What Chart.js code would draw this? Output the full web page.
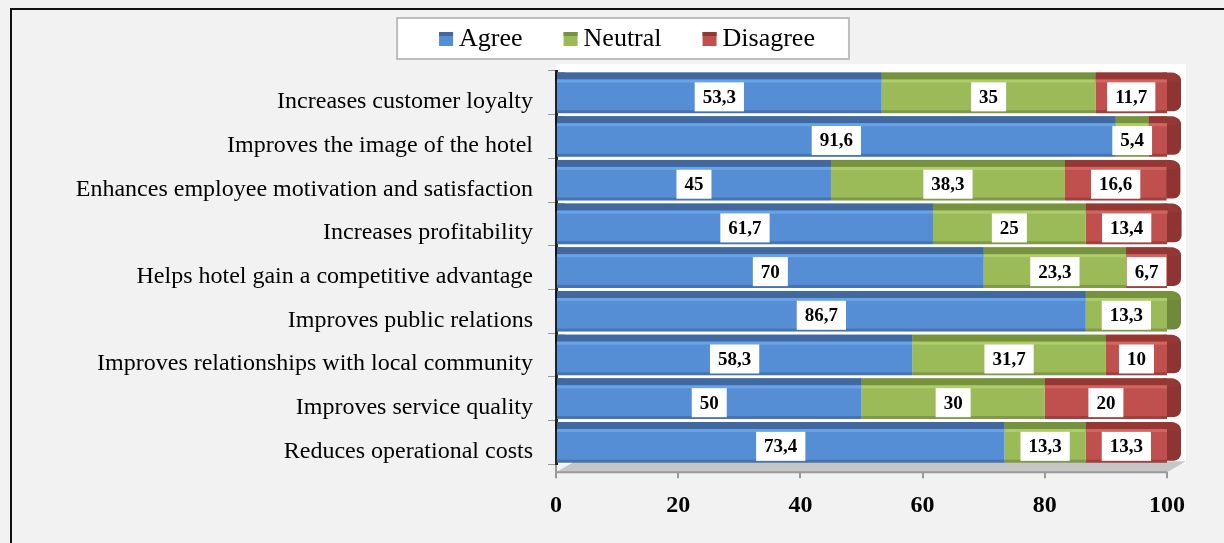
<!DOCTYPE html>
<html lang="en">
<head>
<meta charset="UTF-8">
<title>Benefits of green practices</title>
<script src="https://cdn.jsdelivr.net/npm/chart.js@4.4.1/dist/chart.umd.min.js"></script>
<style>
  html, body { margin: 0; padding: 0; background: #f2f2f2; }
</style>
</head>
<body>
<canvas id="benefitsChart" width="1224" height="543"></canvas>
<script>
// values (percent)
const categories = [
  'Increases customer loyalty',
  'Improves the image of the hotel',
  'Enhances employee motivation and satisfaction',
  'Increases profitability',
  'Helps hotel gain a competitive advantage',
  'Improves public relations',
  'Improves relationships with local community',
  'Improves service quality',
  'Reduces operational costs'
];
const agree    = [53.3, 91.6, 45, 61.7, 70, 86.7, 58.3, 50, 73.4];
const neutral  = [35, 5.4, 38.3, 25, 23.3, 13.3, 31.7, 30, 13.3];
const disagree = [11.7, 3, 16.6, 13.4, 6.7, 0, 10, 20, 13.3];
const xTicks = [0, 20, 40, 60, 80, 100];

const FONT = "'Liberation Serif', 'Times New Roman', serif";
const shades = [
  { main: '#558ed5', dark: '#41699f', light: '#6aa2e6', cap: '#3f6797' },
  { main: '#9bbb59', dark: '#76923c', light: '#aecb6e', cap: '#71893c' },
  { main: '#c0504d', dark: '#953735', light: '#d06662', cap: '#8e3533' }
];

// grey page, white plot wall, outer frame
const backdrop = {
  id: 'backdrop',
  beforeDraw(chart) {
    const { ctx, chartArea: a } = chart;
    ctx.save();
    ctx.fillStyle = '#f2f2f2';
    ctx.fillRect(0, 0, chart.width, chart.height);
    ctx.fillStyle = '#ffffff';
    ctx.fillRect(a.left, a.top - 7, a.right - a.left + 19, a.bottom - a.top + 7);
    ctx.strokeStyle = '#111';
    ctx.lineWidth = 2;
    ctx.strokeRect(11, 9, chart.width + 20, chart.height + 20);
    ctx.restore();
  }
};

function rowsOf(chart) {
  return chart.data.datasets.map((ds, i) => chart.getDatasetMeta(i).data);
}

// floor and the rounded right ends of each bar
const depth = {
  id: 'depth',
  beforeDatasetsDraw(chart) {
    const { ctx, chartArea: a } = chart;
    ctx.save();
    ctx.fillStyle = '#c6c6c6';
    ctx.beginPath();
    ctx.moveTo(a.left, a.bottom + 8);
    ctx.lineTo(a.right, a.bottom + 8);
    ctx.lineTo(a.right + 19, a.bottom - 3);
    ctx.lineTo(a.left + 19, a.bottom - 3);
    ctx.closePath();
    ctx.fill();
    ctx.strokeStyle = '#9a9a9a';
    ctx.lineWidth = 2;
    ctx.beginPath();
    ctx.moveTo(a.left, a.bottom + 8);
    ctx.lineTo(a.right, a.bottom + 8);
    ctx.stroke();

    const rows = rowsOf(chart);
    categories.forEach((c, j) => {
      let last = -1;
      chart.data.datasets.forEach((ds, i) => { if (ds.data[j] > 0) last = i; });
      if (last < 0) return;
      const el = rows[last][j];
      const top = el.y - el.height / 2;
      ctx.fillStyle = shades[last].cap;
      ctx.beginPath();
      ctx.roundRect(el.x - 10, top + 1, 24, el.height - 3, 7);
      ctx.fill();
      ctx.fillStyle = shades[last].dark;
      ctx.beginPath();
      ctx.roundRect(el.x - 10, top, 22, 9, [7, 7, 0, 0]);
      ctx.fill();
    });

    // left wall edge wedges
    ctx.fillStyle = '#151515';
    categories.forEach((c, j) => {
      const el = rows[0][j];
      const top = el.y - el.height / 2;
      ctx.beginPath();
      ctx.moveTo(a.left - 1, top + 9);
      ctx.lineTo(a.left + 9, top);
      ctx.lineTo(a.left - 1, top);
      ctx.closePath();
      ctx.fill();
    });
    ctx.restore();
  },
  afterDatasetsDraw(chart) {
    const { ctx } = chart;
    const rows = rowsOf(chart);
    ctx.save();
    rows.forEach((els, i) => {
      els.forEach(el => {
        const l = Math.min(el.base, el.x), w = Math.abs(el.x - el.base);
        if (w < 0.5) return;
        const top = el.y - el.height / 2;
        ctx.fillStyle = shades[i].dark;
        ctx.fillRect(l, top, w, 7);
        ctx.fillStyle = shades[i].light;
        ctx.fillRect(l, top + 7, w, 3);
        ctx.fillStyle = 'rgba(0,0,0,0.18)';
        ctx.fillRect(l, el.y + el.height / 2 - 3, w, 3);
      });
    });

    // value labels in white boxes
    ctx.font = 'bold 19px ' + FONT;
    ctx.textAlign = 'center';
    ctx.textBaseline = 'middle';
    rows.forEach((els, i) => {
      els.forEach((el, j) => {
        const v = chart.data.datasets[i].data[j];
        if (!(v >= 4)) return;
        const txt = String(v).replace('.', ',');
        const tw = ctx.measureText(txt).width;
        const cx = (el.base + el.x) / 2, cy = el.y + 4;
        ctx.fillStyle = '#ffffff';
        ctx.fillRect(cx - tw / 2 - 8, cy - 14.5, tw + 16, 29);
        ctx.fillStyle = '#000';
        ctx.fillText(txt, cx, cy + 1);
      });
    });
    ctx.restore();
  }
};

// boxed legend at the top
const boxLegend = {
  id: 'boxLegend',
  afterDraw(chart) {
    const { ctx } = chart;
    const sets = chart.data.datasets;
    ctx.save();
    ctx.font = '26px ' + FONT;
    const sw = 14, gap = 6, spacing = 41;
    const widths = sets.map(ds => ctx.measureText(ds.label).width);
    const inner = widths.reduce((s, w) => s + sw + gap + w, 0) + spacing * (sets.length - 1);
    const cx = chart.width / 2 + 13;
    const boxL = cx - inner / 2 - 40, boxW = inner + 76;
    ctx.fillStyle = '#ffffff';
    ctx.fillRect(boxL, 18, boxW, 41);
    ctx.strokeStyle = '#bdbdbd';
    ctx.lineWidth = 2;
    ctx.strokeRect(boxL, 18, boxW, 41);
    let x = cx - inner / 2 + 2;
    ctx.textBaseline = 'middle';
    ctx.textAlign = 'left';
    sets.forEach((ds, i) => {
      ctx.fillStyle = shades[i].main;
      ctx.fillRect(x, 32, sw, sw);
      ctx.fillStyle = shades[i].dark;
      ctx.fillRect(x, 32, sw, 4);
      ctx.fillStyle = '#000';
      ctx.fillText(ds.label, x + sw + gap, 39);
      x += sw + gap + widths[i] + spacing;
    });
    ctx.restore();
  }
};

new Chart(document.getElementById('benefitsChart'), {
  type: 'bar',
  data: {
    labels: categories,
    datasets: [
      { label: 'Agree', data: agree, backgroundColor: shades[0].main },
      { label: 'Neutral', data: neutral, backgroundColor: shades[1].main },
      { label: 'Disagree', data: disagree, backgroundColor: shades[2].main }
    ]
  },
  options: {
    indexAxis: 'y',
    responsive: false,
    animation: false,
    devicePixelRatio: 1,
    datasets: { bar: { barPercentage: 0.93, categoryPercentage: 1, borderWidth: 0 } },
    layout: { padding: { top: 71, right: 57, bottom: 10, left: 0 } },
    plugins: { legend: { display: false }, tooltip: { enabled: false } },
    scales: {
      x: {
        type: 'linear',
        stacked: true,
        min: 0,
        max: 100,
        afterBuildTicks: s => { s.ticks = xTicks.map(v => ({ value: v })); },
        ticks: { font: { family: FONT, size: 24, weight: 'bold' }, color: '#000', padding: 13 },
        grid: { drawOnChartArea: false, tickLength: 14, color: '#999', lineWidth: 2 },
        border: { display: false }
      },
      y: {
        stacked: true,
        afterFit: s => { s.width = 556; },
        ticks: { font: { family: FONT, size: 24 }, color: '#000', padding: 15, labelOffset: 9 },
        grid: { offset: true, drawOnChartArea: false, tickLength: 8, color: '#999' },
        border: { display: true, color: '#222', width: 3 }
      }
    }
  },
  plugins: [backdrop, depth, boxLegend]
});
</script>
</body>
</html>
